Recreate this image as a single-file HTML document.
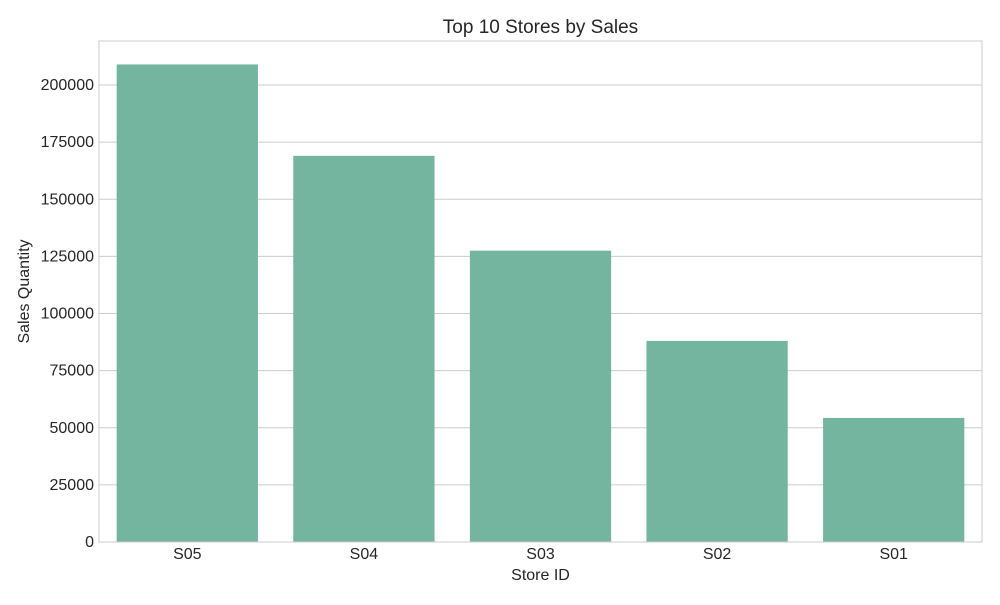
<!DOCTYPE html>
<html><head><meta charset="utf-8"><style>
body{margin:0;background:#fff;font-family:"Liberation Sans",Arial,sans-serif;}
</style></head><body>
<svg id="chart" width="1000" height="600" xmlns="http://www.w3.org/2000/svg" font-family="Liberation Sans, Arial, sans-serif"></svg>
<script>
const categories = ["S05","S04","S03","S02","S01"];
const salesValues = [209000,169000,127500,88000,54300];
const yTicks = [0,25000,50000,75000,100000,125000,150000,175000,200000];

const svg = document.getElementById('chart');
const NS = 'http://www.w3.org/2000/svg';
const L=99,R=982,T=41,B=542, yMax=219260;
const y = v => B - v/yMax*(B-T);
const band = (R-L)/categories.length;
const x = i => L + i*band;
function mk(tag, attrs, text){const e=document.createElementNS(NS,tag);for(const k in attrs)e.setAttribute(k,attrs[k]);if(text!==undefined)e.textContent=text;svg.appendChild(e);return e;}

yTicks.forEach(t=>{
  const g=mk('line',{x1:L,x2:R,y1:y(t),y2:y(t),stroke:'#cccccc','stroke-width':1});
  
  
  const lb=mk('text',{x:L-5,y:y(t)+5,'text-anchor':'end','font-size':16,fill:'#262626'},t);
  
  
});
categories.forEach((c,i)=>{
  const bw=band*0.8;
  const r=mk('rect',{x:x(i)+band*0.1,y:y(salesValues[i]),width:bw,height:B-y(salesValues[i]),fill:'#74b5a0'});
  
  
  const lb=mk('text',{x:x(i)+band/2,y:B+17,'text-anchor':'middle','font-size':16,fill:'#262626'},c);
  
  
});
const fr=mk('rect',{x:L,y:T,width:R-L,height:B-T,fill:'none',stroke:'#cccccc','stroke-width':1});


const ti=mk('text',{x:(L+R)/2,y:33,'text-anchor':'middle','font-size':19,fill:'#262626'},'Top 10 Stores by Sales');


const xt=mk('text',{x:(L+R)/2,y:580,'text-anchor':'middle','font-size':16,fill:'#262626'},'Store ID');


const yt=mk('text',{x:29,y:(T+B)/2,'text-anchor':'middle','font-size':16,fill:'#262626',transform:'rotate(-90 29 '+((T+B)/2)+')'},'Sales Quantity');


</script>
</body></html>
